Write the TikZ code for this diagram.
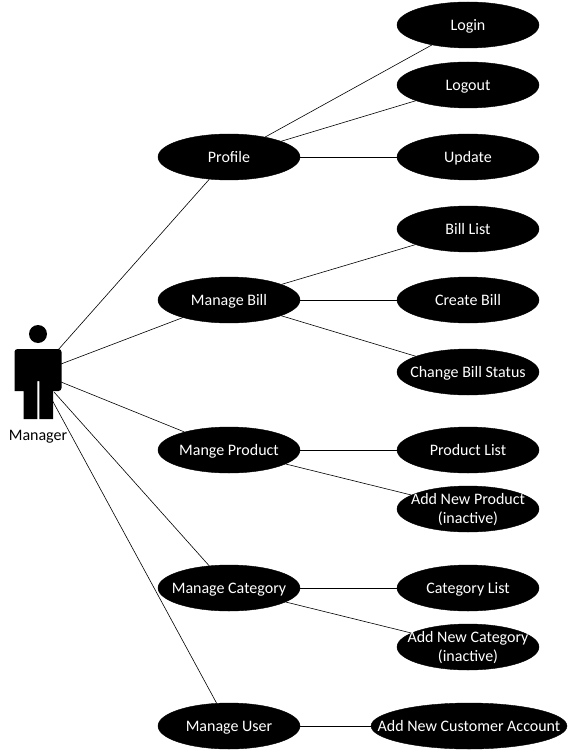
\documentclass[tikz,border=0pt]{standalone}
\usepackage{fontspec}
\setmainfont{Carlito}
\usetikzlibrary{shapes.geometric}
\newcommand{\uctext}[1]{\raisebox{-.7em}{\smash{\makebox[0pt][c]{\begin{tabular}{@{}c@{}}#1\end{tabular}}}}}
\tikzset{
  x=1pt,y=-1pt,
  usecase/.style={ellipse,fill=black,draw=black,text=white,minimum width=142pt,minimum height=46pt,inner sep=0pt,font=\fontsize{16}{19}\selectfont},
  wire/.style={draw=black,line width=0.6pt},
}
\begin{document}
\begin{tikzpicture}
\useasboundingbox[fill=white] (0,0) rectangle (569,751);
\node[usecase] (login) at (468,25) {\uctext{Login}};
\node[usecase] (logout) at (468,85) {\uctext{Logout}};
\node[usecase] (update) at (468,157) {\uctext{Update}};
\node[usecase] (billlist) at (468,229) {\uctext{Bill List}};
\node[usecase] (createbill) at (468,300) {\uctext{Create Bill}};
\node[usecase] (changebill) at (468,372) {\uctext{Change Bill Status}};
\node[usecase] (prodlist) at (468,450) {\uctext{Product List}};
\node[usecase] (addprod) at (468,509) {\uctext{Add New Product\\(inactive)}};
\node[usecase] (catlist) at (468,588) {\uctext{Category List}};
\node[usecase] (addcat) at (468,647) {\uctext{Add New Category\\(inactive)}};
\node[usecase,minimum width=196pt] (addcust) at (469,726) {\uctext{Add New Customer Account}};
\node[usecase] (profile) at (229,157) {\uctext{Profile}};
\node[usecase] (bill) at (229,300) {\uctext{Manage Bill}};
\node[usecase] (product) at (229,450) {\uctext{Mange Product}};
\node[usecase] (category) at (229,588) {\uctext{Manage Category}};
\node[usecase] (user) at (229,726) {\uctext{Manage User}};
\coordinate (a1) at (58,350);
\coordinate (a2) at (61,364);
\coordinate (a3) at (61,382);
\coordinate (a4) at (54,392);
\coordinate (a5) at (51,398);
\draw[wire] (a1) -- (profile);
\draw[wire] (a2) -- (bill);
\draw[wire] (a3) -- (product);
\draw[wire] (a4) -- (category);
\draw[wire] (a5) -- (user);
\draw[wire] (profile) -- (login);
\draw[wire] (profile) -- (logout);
\draw[wire] (profile) -- (update);
\draw[wire] (bill) -- (billlist);
\draw[wire] (bill) -- (createbill);
\draw[wire] (bill) -- (changebill);
\draw[wire] (product) -- (prodlist);
\draw[wire] (product) -- (addprod);
\draw[wire] (category) -- (catlist);
\draw[wire] (category) -- (addcat);
\draw[wire] (user) -- (addcust);
% actor
\fill (38,334) circle (9);
\fill[rounded corners=1pt] (14.5,391) -- (14.5,352) [rounded corners=3pt] -- (14.5,349) -- (61.5,349) -- (61.5,391) [rounded corners=0pt] -- (53,391) -- (53,419) -- (39.3,419) -- (39.3,381) -- (37.3,381) -- (37.3,419) -- (23.5,419) -- (23.5,391) -- cycle;
\node[font=\fontsize{16}{18}\selectfont,inner sep=0pt] (managerlabel) at (38,437) {Manager};
\end{tikzpicture}
\end{document}
